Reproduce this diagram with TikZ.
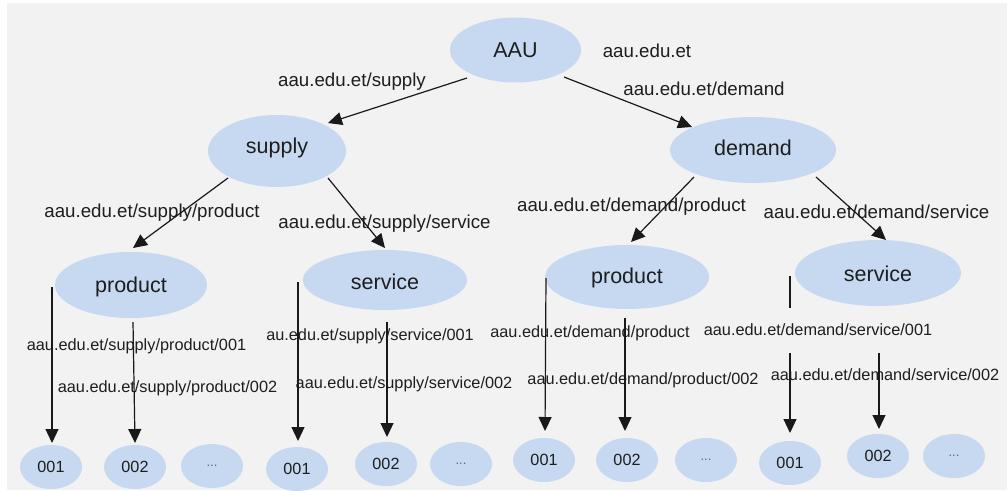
\documentclass[tikz,border=0pt]{standalone}
\usepackage{fontspec}
\setmainfont{Liberation Sans}
\usetikzlibrary{shapes.geometric,arrows.meta}
\definecolor{bg}{HTML}{F2F2F2}
\definecolor{ellfill}{HTML}{C6D9F1}
\definecolor{txt}{HTML}{1E1E1E}
\tikzset{
  big/.style={ellipse, fill=ellfill, draw=none, inner sep=0pt, text=txt,
    font=\fontsize{21.5}{24}\selectfont, text height=20pt, text depth=#1},
  leaf/.style={ellipse, fill=ellfill, draw=none, inner sep=0pt, text=txt,
    minimum width=62pt, minimum height=44pt, font=\fontsize{16.2}{18}\selectfont},
  dots/.style={leaf, text=black!60, font=\fontsize{13}{14}\selectfont},
  lab/.style={anchor=base, inner sep=0pt, text=txt, font=\fontsize{18.7}{20}\selectfont},
  slab/.style={anchor=base, inner sep=0pt, text=txt, font=\fontsize{16.3}{18}\selectfont},
  arr/.style={-{Triangle[width=13pt,length=14pt]}, line width=1.2pt, draw=black!90},
  plainline/.style={line width=1.2pt, draw=black!90}
}
\begin{document}
\begin{tikzpicture}[x=1pt,y=-1pt]
\useasboundingbox (0,0) rectangle (1008,490);
\fill[white] (0,0) rectangle (1008,490);
\fill[bg] (7,3) rectangle (1007,490);

% main nodes
\node[big=6pt,  minimum width=131pt, minimum height=65pt] (aau)    at (515.5,50) {AAU};
\node[big=16pt, minimum width=138pt, minimum height=72pt] (supply) at (277,151) {supply};
\node[big=10pt, minimum width=166pt, minimum height=66pt] (demand) at (753,150) {demand};
\node[big=6pt,  minimum width=152pt, minimum height=66pt] (sprod)  at (131,285) {product};
\node[big=2pt,  minimum width=164pt, minimum height=60pt] (sserv)  at (385,280) {service};
\node[big=8pt,  minimum width=164pt, minimum height=64pt] (dprod)  at (627,277) {product};
\node[big=4pt,  minimum width=166pt, minimum height=66pt] (dserv)  at (878,273) {service};

% leaves
\node[leaf] (l11) at (51,467) {001};
\node[leaf] (l12) at (135,467) {002};
\node[dots] (l13) at (212,466) {...};
\node[leaf] (l21) at (297,469) {001};
\node[leaf] (l22) at (386,464) {002};
\node[dots] (l23) at (461,464) {...};
\node[leaf] (l31) at (544,460) {001};
\node[leaf] (l32) at (627,460) {002};
\node[dots] (l33) at (706,460) {...};
\node[leaf] (l41) at (790,463) {001};
\node[leaf] (l42) at (878,456) {002};
\node[dots] (l43) at (954,456) {...};

% labels
\node[lab] (t0) at (647,57) {aau.edu.et};
\node[lab] (t1) at (352,86) {aau.edu.et/supply};
\node[lab] (t2) at (704,95) {aau.edu.et/demand};
\node[lab] (t3) at (152,217) {aau.edu.et/supply/product};
\node[lab] (t4) at (384.5,228) {aau.edu.et/supply/service};
\node[lab] (t5) at (631.5,211) {aau.edu.et/demand/product};
\node[lab] (t6) at (876.5,218) {aau.edu.et/demand/service};
\node[slab] (t7) at (136.5,350) {aau.edu.et/supply/product/001};
\node[slab] (t8) at (167.5,392) {aau.edu.et/supply/product/002};
\node[slab] (t9) at (370,340) {au.edu.et/supply/service/001};
\node[slab] (t10) at (404,388) {aau.edu.et/supply/service/002};
\node[slab] (t11) at (590,337) {aau.edu.et/demand/product};
\node[slab] (t12) at (643,384) {aau.edu.et/demand/product/002};
\node[slab] (t13) at (818,335) {aau.edu.et/demand/service/001};
\node[slab] (t14) at (885,380) {aau.edu.et/demand/service/002};

% connectors
\draw[arr] ([shift={(-48.5,28)}]aau.center) -- ([shift={(51,-28)}]supply.center);
\draw[arr] ([shift={(48.5,27)}]aau.center) -- ([shift={(-61,-23)}]demand.center);
\draw[arr] ([shift={(-49,27)}]supply.center) -- ([shift={(2,-37)}]sprod.center);
\draw[arr] ([shift={(51,27)}]supply.center) -- ([shift={(0,-32)}]sserv.center);
\draw[arr] ([shift={(-59,27)}]demand.center) -- ([shift={(4,-35)}]dprod.center);
\draw[arr] ([shift={(63,27)}]demand.center) -- ([shift={(8,-33)}]dserv.center);

\draw[arr] ([shift={(-79,2)}]sprod.center) -- ([shift={(1,-24)}]l11.center);
\draw[arr] ([shift={(2,37)}]sprod.center) -- ([shift={(0,-24)}]l12.center);
\draw[arr] ([shift={(-87,2)}]sserv.center) -- ([shift={(1,-28)}]l21.center);
\draw[arr] ([shift={(2,42)}]sserv.center) -- ([shift={(1,-27)}]l22.center);
\draw[arr] ([shift={(-81,1)}]dprod.center) -- ([shift={(1,-29)}]l31.center);
\draw[arr] ([shift={(-2,41)}]dprod.center) -- ([shift={(-2,-29)}]l32.center);
\draw[plainline] ([shift={(-88,3)}]dserv.center) -- ([shift={(-88,35)}]dserv.center);
\draw[arr] ([shift={(0,-110)}]l41.center) -- ([shift={(0,-30)}]l41.center);
\draw[arr] ([shift={(1,-103)}]l42.center) -- ([shift={(1,-27)}]l42.center);
\end{tikzpicture}
\end{document}
